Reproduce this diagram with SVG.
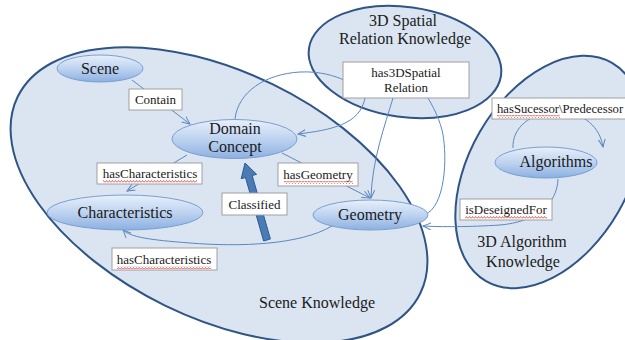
<svg xmlns="http://www.w3.org/2000/svg" width="625" height="340" viewBox="0 0 625 340">
  <style>
    .region { fill: #dbe5f1; stroke: #2f5486; stroke-width: 2; }
    .node { fill: url(#nodeGrad); stroke: #7a9fd0; stroke-width: 1; }
    .conn { fill: none; stroke: #5b88c0; stroke-width: 1; }
    .arr { marker-end: url(#arrow); }
    .box { fill: #ffffff; stroke: #a0a0a0; stroke-width: 1; }
    text { font-family: 'Liberation Serif', 'DejaVu Serif', serif; fill: #1a1a1a; }
    .big { font-size: 16px; text-anchor: middle; }
    .nt { font-size: 16px; text-anchor: middle; }
    .lt { font-size: 13px; text-anchor: middle; }
    .sq { fill: url(#squiggle); }
  </style>
  <defs>
    <linearGradient id="nodeGrad" x1="0" y1="0" x2="0" y2="1">
      <stop offset="0" stop-color="#e8f0fb"/>
      <stop offset="0.5" stop-color="#bed3f0"/>
      <stop offset="1" stop-color="#8cb0e1"/>
    </linearGradient>
    <marker id="arrow" markerUnits="userSpaceOnUse" markerWidth="10" markerHeight="10" refX="8" refY="4" orient="auto">
      <path d="M0,0.5 L8,4 L0,7.5" fill="none" stroke="#5b88c0" stroke-width="1"/>
    </marker>
    <pattern id="squiggle" patternUnits="userSpaceOnUse" width="3" height="3">
      <path d="M0,2.5 L1.5,0.5 L3,2.5" fill="none" stroke="#e03a3a" stroke-width="0.8"/>
    </pattern>
  </defs>

  <g id="regions" font-family="Liberation Serif, serif">
    <g id="scene-knowledge">
      <ellipse class="region" cx="219" cy="195" rx="224" ry="123" transform="rotate(26 219 195)"/>
      <text class="big" x="317" y="308" font-family="Liberation Serif, serif">Scene Knowledge</text>
    </g>
    <g id="spatial-knowledge">
      <ellipse class="region" cx="405" cy="62" rx="97" ry="55" transform="rotate(8 405 62)"/>
      <text class="big" x="403" y="26" font-family="Liberation Serif, serif">3D Spatial</text>
      <text class="big" x="405" y="44" font-family="Liberation Serif, serif">Relation Knowledge</text>
    </g>
    <g id="algorithm-knowledge">
      <ellipse class="region" cx="549" cy="172" rx="126" ry="80" transform="rotate(-60 549 172)"/>
      <text class="big" x="522" y="247" font-family="Liberation Serif, serif">3D Algorithm</text>
      <text class="big" x="523" y="267" font-family="Liberation Serif, serif">Knowledge</text>
    </g>
  </g>

  <g id="connectors">
    <path class="conn arr" d="M132,80 L190,124"/>
    <path class="conn arr" d="M187,155 L127,191"/>
    <path class="conn arr" d="M282,153 L370,198"/>
    <path class="conn arr" d="M393,98 C385,125 372,160 371,198"/>
    <path class="conn arr" d="M365,98 C360,125 330,130 298,134"/>
    <path class="conn" d="M235,119 C238,92 265,74 300,72 C320,71 335,76 344,80"/>
    <path class="conn" d="M428,213 C447,200 447,150 442,130 C438,115 432,105 428,98"/>
    <path class="conn arr" d="M332,226 C300,245 240,247 190,243 C150,240 130,237 123,230"/>
    <path class="conn arr" d="M513,148 C512,128 530,112 558,112 C585,112 600,128 603,147"/>
    <path class="conn arr" d="M558,179 C557,205 535,222 500,225 C470,227 440,227 423,226"/>
    <polygon id="classified-arrow" points="245,163 256.6,174.3 252.2,175.5 270.4,239 263.6,241 245.5,177.5 241.2,178.7" fill="#4a7bb5" stroke="#2f5a8f" stroke-width="1"/>
  </g>

  <g id="labels" font-family="Liberation Serif, serif">
    <g id="lbl-contain">
      <rect class="box" x="129" y="89" width="53" height="21"/>
      <text class="lt" x="155.5" y="104" font-family="Liberation Serif, serif">Contain</text>
    </g>
    <g id="lbl-has3dspatial">
      <rect class="box" x="343" y="62" width="126" height="36"/>
      <text class="lt" x="406" y="77" font-family="Liberation Serif, serif">has3DSpatial</text>
      <text class="lt" x="406" y="92" font-family="Liberation Serif, serif">Relation</text>
    </g>
    <g id="lbl-hascharacteristics-1">
      <rect class="box" x="97" y="163" width="105" height="21"/>
      <text class="lt" x="150" y="178" font-family="Liberation Serif, serif">hasCharacteristics</text>
      <rect class="sq" x="103" y="180" width="94" height="3"/>
    </g>
    <g id="lbl-hasgeometry">
      <rect class="box" x="278" y="163" width="80" height="23"/>
      <text class="lt" x="318" y="179" font-family="Liberation Serif, serif">hasGeometry</text>
      <rect class="sq" x="284" y="181" width="69" height="3"/>
    </g>
    <g id="lbl-classified">
      <rect class="box" x="222" y="193" width="65" height="22"/>
      <text class="lt" x="254.5" y="209" font-family="Liberation Serif, serif">Classified</text>
    </g>
    <g id="lbl-hascharacteristics-2">
      <rect class="box" x="112" y="248" width="105" height="22"/>
      <text class="lt" x="164" y="264" font-family="Liberation Serif, serif">hasCharacteristics</text>
      <rect class="sq" x="117" y="266" width="94" height="3"/>
    </g>
    <g id="lbl-hassuccessor">
      <rect class="box" x="492" y="98" width="140" height="21"/>
      <text x="497" y="113" font-size="12.7" font-family="Liberation Serif, serif">hasSucessor\Predecessor</text>
      <rect class="sq" x="497" y="115" width="63" height="3"/>
    </g>
    <g id="lbl-isdesignedfor">
      <rect class="box" x="460" y="199" width="92" height="21"/>
      <text class="lt" x="506" y="214" font-family="Liberation Serif, serif">isDeseignedFor</text>
      <rect class="sq" x="465" y="216" width="82" height="3"/>
    </g>
  </g>

  <g id="nodes" font-family="Liberation Serif, serif">
    <g id="node-scene">
      <ellipse class="node" cx="100" cy="68.5" rx="43" ry="13.5"/>
      <text class="nt" x="100" y="74" font-family="Liberation Serif, serif">Scene</text>
    </g>
    <g id="node-domain-concept">
      <ellipse class="node" cx="234.5" cy="139" rx="62.5" ry="19.5"/>
      <text class="nt" x="235" y="134" font-family="Liberation Serif, serif">Domain</text>
      <text class="nt" x="235" y="152" font-family="Liberation Serif, serif">Concept</text>
    </g>
    <g id="node-characteristics">
      <ellipse class="node" cx="125" cy="212.5" rx="78" ry="17.5"/>
      <text class="nt" x="125" y="218" font-family="Liberation Serif, serif">Characteristics</text>
    </g>
    <g id="node-geometry">
      <ellipse class="node" cx="370.5" cy="215" rx="57.5" ry="15"/>
      <text class="nt" x="370" y="220" font-family="Liberation Serif, serif">Geometry</text>
    </g>
    <g id="node-algorithms">
      <ellipse class="node" cx="546" cy="162.5" rx="51" ry="15.5"/>
      <text class="nt" x="556" y="167" font-family="Liberation Serif, serif">Algorithms</text>
    </g>
  </g>
</svg>
